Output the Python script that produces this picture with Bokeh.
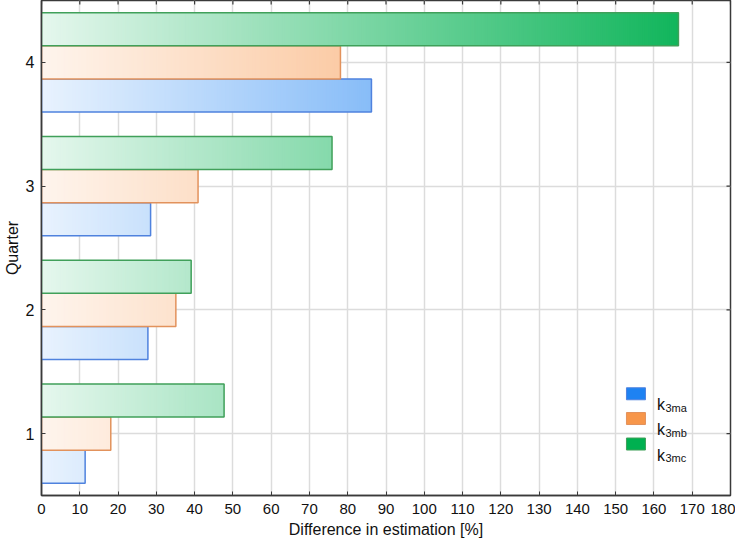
import numpy as np
from bokeh.plotting import figure
from bokeh.models import FixedTicker, Range1d
from bokeh.core.properties import value
from bokeh.embed import file_html
from bokeh.resources import INLINE

# ---- data ----
quarters = [1, 2, 3, 4]
k3ma = [11.4, 27.8, 28.5, 86.2]
k3mb = [18.1, 35.1, 40.9, 78.1]
k3mc = [47.7, 39.1, 75.9, 166.4]
x_ticks = list(range(0, 181, 10))
y_ticks = [1, 2, 3, 4]
sub_labels = ["3ma", "3mb", "3mc"]

# ---- styles ----
base_colors = [(30, 130, 242), (247, 150, 74), (0, 176, 80)]
edge_colors = ["#4f82de", "#e2925c", "#40a05a"]
offsets = [-0.2667, 0.0, 0.2667]
bar_h = 0.2667
FONT = "Liberation Sans"
X_MIN, X_MAX = 0.0, 180.0
Y_MIN, Y_MAX = 0.5, 4.5
FRAME_W, FRAME_H = 689, 495
AX = "#3a3a3a"


def ramp(rgb, x):
    f = 0.1 + 0.9 * x / X_MAX
    r, g, b = (int(round(255 * (1 - f) + c * f)) for c in rgb)
    return "#%02x%02x%02x" % (r, g, b)


p = figure(width=728, height=540, output_backend="svg", toolbar_location=None,
           x_range=Range1d(X_MIN, X_MAX), y_range=Range1d(Y_MIN, Y_MAX),
           frame_width=FRAME_W, frame_height=FRAME_H,
           min_border_left=34, min_border_right=5, min_border_top=0,
           min_border_bottom=45)
p.background_fill_color = "white"
p.border_fill_color = "white"
p.outline_line_color = AX
p.outline_line_width = 1.5

series = [k3ma, k3mb, k3mc]
step = 0.5
for si, vals in enumerate(series):
    L, R, T, B, C = [], [], [], [], []
    for q, v in zip(quarters, vals):
        yc = q + offsets[si]
        edges = list(np.arange(0, v, step)) + [v]
        for a, b in zip(edges[:-1], edges[1:]):
            L.append(a)
            R.append(min(b + step, v))
            T.append(yc + bar_h / 2)
            B.append(yc - bar_h / 2)
            C.append(ramp(base_colors[si], (a + b) / 2))
    p.quad(left=L, right=R, top=T, bottom=B, fill_color=C, line_color=None)
    p.hbar(y=[q + offsets[si] for q in quarters], height=bar_h, left=0,
           right=vals, fill_alpha=0, line_color=edge_colors[si], line_width=1.5)

# ---- mirrored inward ticks on top and right frame edges ----
tick_len_x = 4 * (Y_MAX - Y_MIN) / FRAME_H
tick_len_y = 4 * (X_MAX - X_MIN) / FRAME_W
p.segment(x0=x_ticks, x1=x_ticks, y0=[Y_MAX] * len(x_ticks),
          y1=[Y_MAX - tick_len_x] * len(x_ticks), line_color=AX, line_width=1.2)
p.segment(x0=[X_MAX] * len(y_ticks), x1=[X_MAX - tick_len_y] * len(y_ticks),
          y0=y_ticks, y1=y_ticks, line_color=AX, line_width=1.2)

# ---- legend (custom, for subscripts) ----
leg_x = 155.3
leg_text_x = 160.8
leg_y = [1.322, 1.122, 0.916]
for si in range(3):
    p.rect(x=[leg_x], y=[leg_y[si]], width=19, height=12, width_units="screen",
           height_units="screen", fill_color="#%02x%02x%02x" % base_colors[si],
           line_color=edge_colors[si], line_width=1)
    p.text(x=[leg_text_x], y=[leg_y[si]], text=["k"], text_font=value(FONT),
           text_font_size="16px", text_baseline="alphabetic", text_align="left",
           y_offset=11, text_color="#111111")
    p.text(x=[leg_text_x], y=[leg_y[si]], text=[sub_labels[si]], text_font=value(FONT),
           text_font_size="11px", text_baseline="alphabetic", text_align="left",
           x_offset=8.5, y_offset=14, text_color="#111111")

# ---- axes ----
p.xaxis.ticker = FixedTicker(ticks=x_ticks)
p.yaxis.ticker = FixedTicker(ticks=y_ticks)
for ax in (p.xaxis[0], p.yaxis[0]):
    ax.major_tick_in = 4
    ax.major_tick_out = 0
    ax.minor_tick_in = 0
    ax.minor_tick_out = 0
    ax.axis_line_color = AX
    ax.axis_line_width = 1.5
    ax.major_tick_line_color = AX
    ax.major_label_text_font = FONT
    ax.major_label_text_font_size = "15px"
    ax.major_label_text_color = "#111111"
    ax.axis_label_text_font = FONT
    ax.axis_label_text_font_size = "16px"
    ax.axis_label_text_font_style = "normal"
    ax.axis_label_text_color = "#111111"
p.xaxis.axis_label = "Difference in estimation [%]"
p.yaxis.axis_label = "Quarter"
p.xaxis.major_label_standoff = 8
p.xaxis.axis_label_standoff = 4
p.yaxis.major_label_standoff = 7
p.yaxis.axis_label_standoff = 2
p.yaxis.major_label_text_font_size = "16px"
p.yaxis.major_label_orientation = "horizontal"

# ---- grid ----
p.xgrid.ticker = FixedTicker(ticks=x_ticks)
p.ygrid.ticker = FixedTicker(ticks=y_ticks)
p.grid.grid_line_color = "#dcdcdc"
p.grid.grid_line_width = 1.5

open("out.html", "w").write(file_html(p, INLINE))
